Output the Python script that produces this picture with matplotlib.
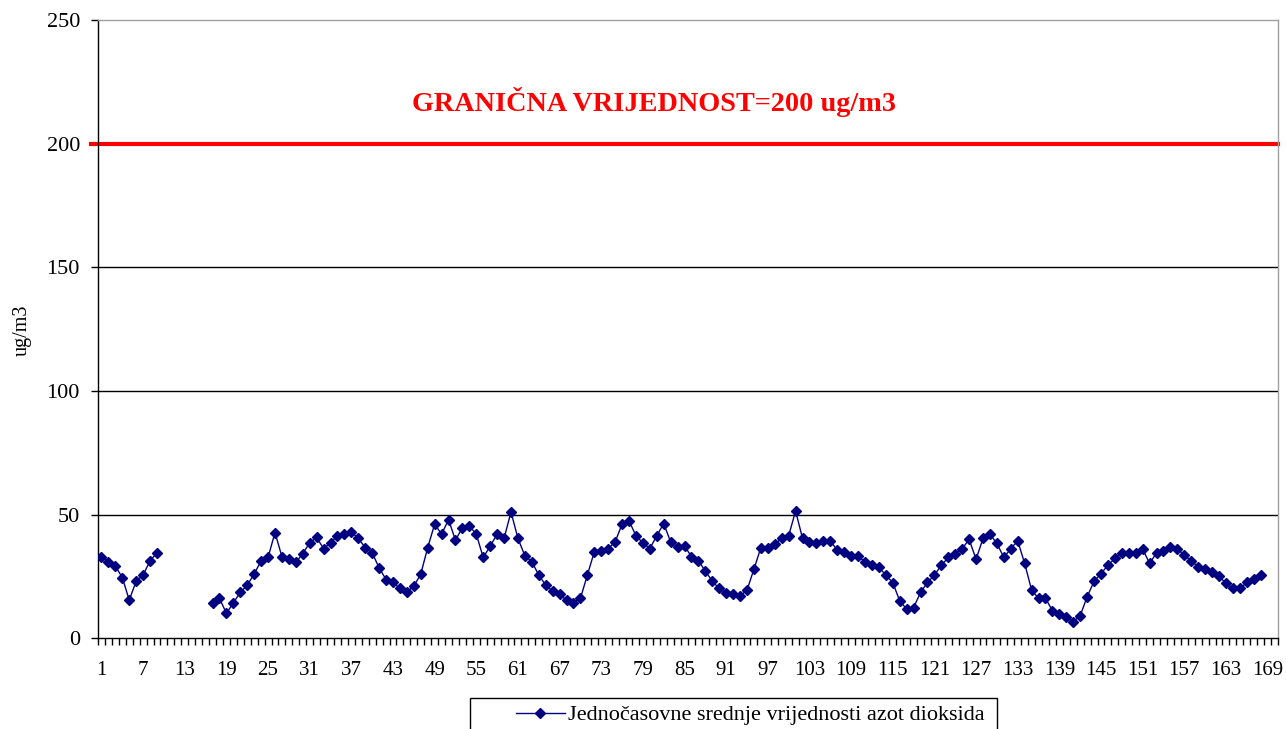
import numpy as np
import matplotlib.pyplot as plt
from matplotlib.patches import Rectangle

# jednočasovne vrijednosti NO2 (ug/m3), sati 10-16 nema podataka
hours = list(range(1, 169))
no2_values = [
    33.0, 31.0, 29.2, 24.6, 15.5, 23.1, 25.6, 31.4, 34.6,
    np.nan, np.nan, np.nan, np.nan, np.nan, np.nan, np.nan,
    14.4, 16.2, 10.1, 14.4, 18.6, 21.5, 26.0, 31.4, 32.7, 42.8,
    33.0, 32.0, 30.7, 34.3, 38.6, 40.8, 36.3, 38.6, 41.5, 42.1,
    43.1, 40.4, 36.7, 34.6, 28.5, 23.8, 22.6, 20.2, 18.8, 21.1,
    26.0, 36.7, 46.2, 42.1, 48.0, 39.7, 44.8, 45.5, 42.1, 32.7,
    37.3, 42.1, 40.4, 51.1, 40.4, 33.4, 31.0, 25.6, 21.5, 19.1,
    17.8, 15.5, 14.4, 16.2, 25.6, 35.0, 35.4, 36.3, 39.0, 46.2,
    47.5, 41.5, 38.6, 36.3, 41.5, 46.4, 39.0, 37.0, 37.4, 33.0,
    31.4, 27.2, 23.1, 20.2, 18.4, 17.8, 17.2, 19.5, 28.0, 36.7,
    36.7, 38.1, 40.4, 41.5, 51.5, 40.4, 39.0, 38.6, 39.4, 39.4,
    35.7, 35.0, 33.2, 33.2, 31.0, 29.6, 28.7, 25.6, 22.5, 15.2,
    11.8, 12.4, 18.6, 22.6, 25.6, 29.6, 32.7, 34.1, 36.3, 40.0,
    32.0, 40.4, 42.1, 38.4, 32.7, 36.3, 39.4, 30.3, 19.5, 16.2,
    16.2, 11.2, 9.7, 8.5, 6.7, 9.2, 16.8, 23.1, 26.2, 29.6,
    32.3, 34.6, 34.6, 34.6, 36.1, 30.3, 34.6, 35.4, 37.0, 36.3,
    33.6, 31.4, 28.9, 28.0, 26.9, 25.2, 22.2, 20.2, 20.2, 22.6,
    24.2, 25.6,
]
limit_value = 200
limit_text = 'GRANIČNA VRIJEDNOST=200 ug/m3'
series_name = 'Jednočasovne srednje vrijednosti azot dioksida'
x_labels = list(range(1, 170, 6))
y_ticks = [0, 50, 100, 150, 200, 250]

plt.rcParams['font.family'] = ['Liberation Serif', 'DejaVu Serif']

fig = plt.figure(figsize=(12.86, 7.29), dpi=100)
axis = fig.add_axes([0.0762, 0.1243, 0.9176, 0.8483])

# mreža
for y in y_ticks[1:-1]:
    axis.axhline(y, color='black', linewidth=1.0, zorder=1)

# granična vrijednost
axis.axhline(limit_value, xmin=-0.006, xmax=1.0, color='#ff0000', linewidth=3.0,
             zorder=2, clip_on=False)
axis.text(0.471, 0.868, limit_text, transform=axis.transAxes, color='#ff0000',
          fontsize=20.3, fontweight='bold', ha='center', va='center')

line, = axis.plot(hours, no2_values, color='#000080', linewidth=1.0, marker='D',
                  markersize=4.9, markerfacecolor='#000080', markeredgecolor='#000080',
                  zorder=3, label=series_name)

axis.set_xlim(0.5, 170.5)
axis.set_ylim(0, 250)
axis.set_yticks(y_ticks)
axis.set_xticks(x_labels)
axis.set_xticklabels([str(v) for v in x_labels])
axis.set_xticks(np.arange(0.5, 171, 1.0), minor=True)
axis.tick_params(axis='x', which='major', length=0, pad=16, labelsize=15)
axis.tick_params(axis='x', which='minor', length=5, width=1, direction='out', color='black')
axis.tick_params(axis='y', which='major', length=5, width=1, direction='out', pad=8,
                 labelsize=16, color='black')

for side in ['left', 'bottom']:
    axis.spines[side].set_color('black')
    axis.spines[side].set_linewidth(1.0)
for side in ['top', 'right']:
    axis.spines[side].set_color('#a0a0a0')
    axis.spines[side].set_linewidth(1.0)

fig.text(22 / 1286, 1 - 330 / 729, 'ug/m3', rotation=90, ha='center', va='center', fontsize=14.5)

# legenda
fig.patches.append(Rectangle((470 / 1286, -0.02), 527 / 1286, 0.0625, transform=fig.transFigure,
                             facecolor='white', edgecolor='black', linewidth=1.0))
fig.legend(handles=[line], loc='center left', bbox_to_anchor=(516 / 1286, 1 - 715 / 729),
           frameon=False, fontsize=16, handlelength=2.2, handletextpad=0.15,
           borderpad=0, borderaxespad=0)

fig.savefig('out.png', dpi=100)
